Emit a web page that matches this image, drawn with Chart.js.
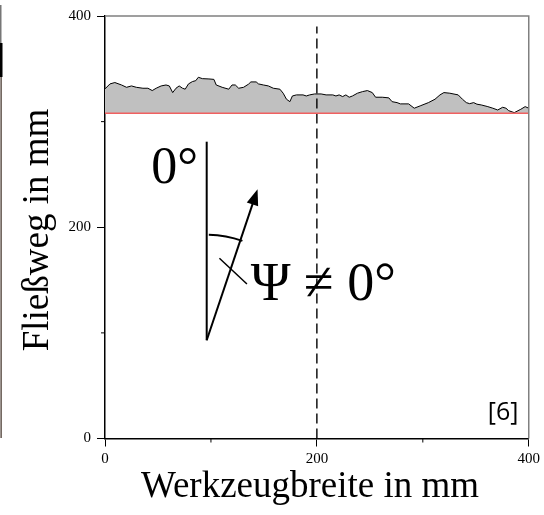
<!DOCTYPE html>
<html>
<head>
<meta charset="utf-8">
<script src="https://cdn.jsdelivr.net/npm/chart.js@4"></script>
<style>
  html, body { margin: 0; padding: 0; background: #fff; }
  #wrap { width: 544px; height: 515px; position: relative; }
</style>
</head>
<body>
<div id="wrap"><canvas id="flowChart"></canvas></div>
<script>
// measured flow path along the tool width
const widthMm = [0, 4.7, 9.3, 15.6, 20.3, 25, 29.6, 35.8, 40.5, 44.6, 48.3, 53, 57.6, 60.7, 63.9, 67, 70, 73.2, 75.7,
    78.8, 82.5, 85.7, 88.1, 91.9, 98.1, 102.8, 105, 110.6, 116.8, 119.9, 123, 126.2, 130.8, 135.5, 137.7, 142.7, 144.9,
    149.5, 154.2, 158.9, 165.1, 168.2, 171.3, 174.5, 176.9, 180.7, 186.9, 190, 193.2, 197.9, 204, 208.7, 215, 218, 221,
    224.3, 227.4, 230.5, 233.6, 238.3, 243, 247.7, 252.3, 255.4, 261.7, 267.9, 271, 275.7, 278.8, 286.6, 291.9, 297.5,
    305.3, 311.5, 316.2, 319.9, 325.5, 333.4, 337.4, 341.1, 344.2, 348, 351.1, 355.1, 361.4, 366.1, 370.7, 375.4, 378.5,
    381, 386.3, 392.5, 396.6, 400];
const flowPath = [331, 335.7, 337, 334.7, 332.5, 333.8, 332.5, 331.6, 331.6, 329.4, 331.6, 333.8, 334.7, 333.8, 327.5,
    331.6, 333.8, 331.6, 330.7, 335.7, 337.9, 338.8, 342, 340.7, 340.4, 340, 334.7, 332.5, 330.7, 334.7, 334.7, 331.6,
    332.5, 335.5, 337.6, 337.6, 335.7, 334.7, 333.8, 331.6, 330.7, 326.9, 321.2, 318.9, 324.3, 325.3, 325.3, 324.3,
    325.3, 326.2, 326.2, 325.3, 325.3, 324.3, 325.3, 323.7, 325.3, 323.1, 324.3, 326.9, 328.4, 329.4, 327.5, 323.1,
    323.1, 322.5, 318.9, 318, 316.8, 316.8, 312.7, 314.9, 318, 321.2, 325.3, 327.5, 326.9, 325.3, 321.2, 318, 317, 318,
    316.5, 315.8, 314.2, 312.7, 311, 313.6, 312.7, 310.4, 308.5, 311.7, 314.2, 312.7];

// reference (minimum) flow path
const baseLevel = 308;
const baseX = [0, 400];

// dashed centre line
const centreX = [200, 200];
const centreY = [0, 390];

// tick values
const majorTicks = [0, 200, 400];
const minorTicks = [100, 300];

// axis titles
const xTitle = 'Werkzeugbreite in mm';
const yTitle = 'Fließweg in mm';

// angle sketch, in data units
const refLineX = [96, 96];
const refLineY = [281, 93];
const arrowX = [96, 144];
const arrowY = [93, 236];
const arcStart = [98, 193];
const crossX = [108, 134];
const crossY = [170.6, 146.3];
const labelZero = { text: '0°', x: 43.6, y: 242 };
const labelPsi = { text: 'Ψ ≠ 0°', x: 137.5, y: 131 };
const labelRef = { text: '[6]', x: 361.4, y: 17.5 };

const serif = '"Liberation Serif", "Times New Roman", serif';

const toPoints = (xs, ys) => xs.map((v, i) => ({ x: v, y: ys[i] }));

const sketchPlugin = {
    id: 'sketch',
    beforeDraw(chart) {
        // cropped edge of neighbouring figure
        const ctx = chart.ctx;
        ctx.save();
        ctx.fillStyle = '#777';
        ctx.fillRect(0, 5, 1.5, 38);
        ctx.fillStyle = '#000';
        ctx.fillRect(0, 43, 2.5, 34);
        ctx.fillStyle = '#3a2a20';
        ctx.fillRect(0.5, 77, 1.2, 361);
        ctx.restore();
    },
    afterDatasetsDraw(chart) {
        const { ctx, chartArea: a, scales: { x, y } } = chart;
        const px = v => x.getPixelForValue(v);
        const py = v => y.getPixelForValue(v);
        ctx.save();

        // grey frame on top and right
        ctx.strokeStyle = '#808080';
        ctx.lineWidth = 1.5;
        ctx.beginPath();
        ctx.moveTo(a.left, a.top);
        ctx.lineTo(a.right, a.top);
        ctx.lineTo(a.right, a.bottom);
        ctx.stroke();

        // short minor ticks
        ctx.strokeStyle = '#000';
        ctx.lineWidth = 1;
        minorTicks.forEach(t => {
            ctx.beginPath();
            ctx.moveTo(px(t), a.bottom);
            ctx.lineTo(px(t), a.bottom + 4);
            ctx.moveTo(a.left, py(t));
            ctx.lineTo(a.left - 4, py(t));
            ctx.stroke();
        });

        // axis titles
        ctx.fillStyle = '#000';
        ctx.font = '37px ' + serif;
        ctx.textAlign = 'center';
        ctx.textBaseline = 'middle';
        ctx.fillText(xTitle, 310, 487);
        ctx.save();
        ctx.translate(38, 230);
        ctx.rotate(-Math.PI / 2);
        ctx.fillText(yTitle, 0, 0);
        ctx.restore();

        // vertical reference and arrow
        ctx.lineWidth = 2;
        ctx.beginPath();
        ctx.moveTo(px(refLineX[0]), py(refLineY[0]));
        ctx.lineTo(px(refLineX[1]), py(refLineY[1]));
        ctx.stroke();

        const x0 = px(arrowX[0]), y0 = py(arrowY[0]);
        const x1 = px(arrowX[1]), y1 = py(arrowY[1]);
        const ang = Math.atan2(y1 - y0, x1 - x0);
        const head = 16;
        ctx.beginPath();
        ctx.moveTo(x0, y0);
        ctx.lineTo(x1 - Math.cos(ang) * head * 0.8, y1 - Math.sin(ang) * head * 0.8);
        ctx.stroke();
        ctx.beginPath();
        ctx.moveTo(x1, y1);
        ctx.lineTo(x1 - Math.cos(ang) * head + Math.sin(ang) * 6, y1 - Math.sin(ang) * head - Math.cos(ang) * 6);
        ctx.lineTo(x1 - Math.cos(ang) * head - Math.sin(ang) * 6, y1 - Math.sin(ang) * head + Math.cos(ang) * 6);
        ctx.closePath();
        ctx.fill();

        // angle arc
        const cx = px(refLineX[1]), cy = py(refLineY[1]);
        const sx = px(arcStart[0]), sy = py(arcStart[1]);
        const r = Math.hypot(sx - cx, sy - cy);
        ctx.beginPath();
        ctx.arc(cx, cy, r, Math.atan2(sy - cy, sx - cx), ang + 0.02);
        ctx.stroke();

        ctx.lineWidth = 1.5;
        ctx.beginPath();
        ctx.moveTo(px(crossX[0]), py(crossY[0]));
        ctx.lineTo(px(crossX[1]), py(crossY[1]));
        ctx.stroke();

        // labels
        ctx.textAlign = 'left';
        ctx.textBaseline = 'alphabetic';
        ctx.font = '52px ' + serif;
        ctx.fillText(labelZero.text, px(labelZero.x), py(labelZero.y));
        ctx.font = '54px ' + serif;
        ctx.fillText(labelPsi.text, px(labelPsi.x), py(labelPsi.y));
        ctx.font = '25px "Open Sans", sans-serif';
        ctx.fillText(labelRef.text, px(labelRef.x), py(labelRef.y));

        ctx.restore();
    }
};

const ctx = document.getElementById('flowChart').getContext('2d');
new Chart(ctx, {
    type: 'line',
    data: {
        datasets: [
            {
                data: toPoints(baseX, baseX.map(() => baseLevel)),
                borderColor: '#f06060',
                borderWidth: 1.5,
                pointRadius: 0,
                fill: false,
                order: 0
            },
            {
                data: toPoints(centreX, centreY),
                borderColor: '#000',
                borderWidth: 1.4,
                borderDash: [10, 5],
                pointRadius: 0,
                fill: false,
                order: 1
            },
            {
                data: toPoints(widthMm, flowPath),
                borderColor: '#000',
                borderWidth: 1,
                backgroundColor: '#c0c0c0',
                pointRadius: 0,
                tension: 0,
                fill: { value: baseLevel },
                order: 2
            }
        ]
    },
    options: {
        responsive: true,
        maintainAspectRatio: false,
        animation: false,
        layout: { autoPadding: false, padding: { top: 16, right: 6, left: 0, bottom: 0 } },
        plugins: {
            legend: { display: false },
            tooltip: { enabled: false }
        },
        scales: {
            x: {
                type: 'linear',
                min: 0,
                max: 400,
                afterBuildTicks: s => { s.ticks = majorTicks.map(v => ({ value: v })); },
                afterFit: s => { s.height = 76.5; },
                ticks: { color: '#000', font: { family: serif, size: 15 }, padding: 4, maxRotation: 0 },
                grid: { drawOnChartArea: false, drawTicks: true, tickLength: 8, color: '#000', lineWidth: 1 },
                border: { display: true, color: '#000', width: 1.5 }
            },
            y: {
                min: 0,
                max: 400,
                afterBuildTicks: s => { s.ticks = majorTicks.map(v => ({ value: v })); },
                afterFit: s => { s.width = 105; },
                ticks: { color: '#000', font: { family: serif, size: 15 }, padding: 6 },
                grid: { drawOnChartArea: false, drawTicks: true, tickLength: 8, color: '#000', lineWidth: 1 },
                border: { display: true, color: '#000', width: 1.5 }
            }
        }
    },
    plugins: [sketchPlugin]
});
</script>
</body>
</html>
